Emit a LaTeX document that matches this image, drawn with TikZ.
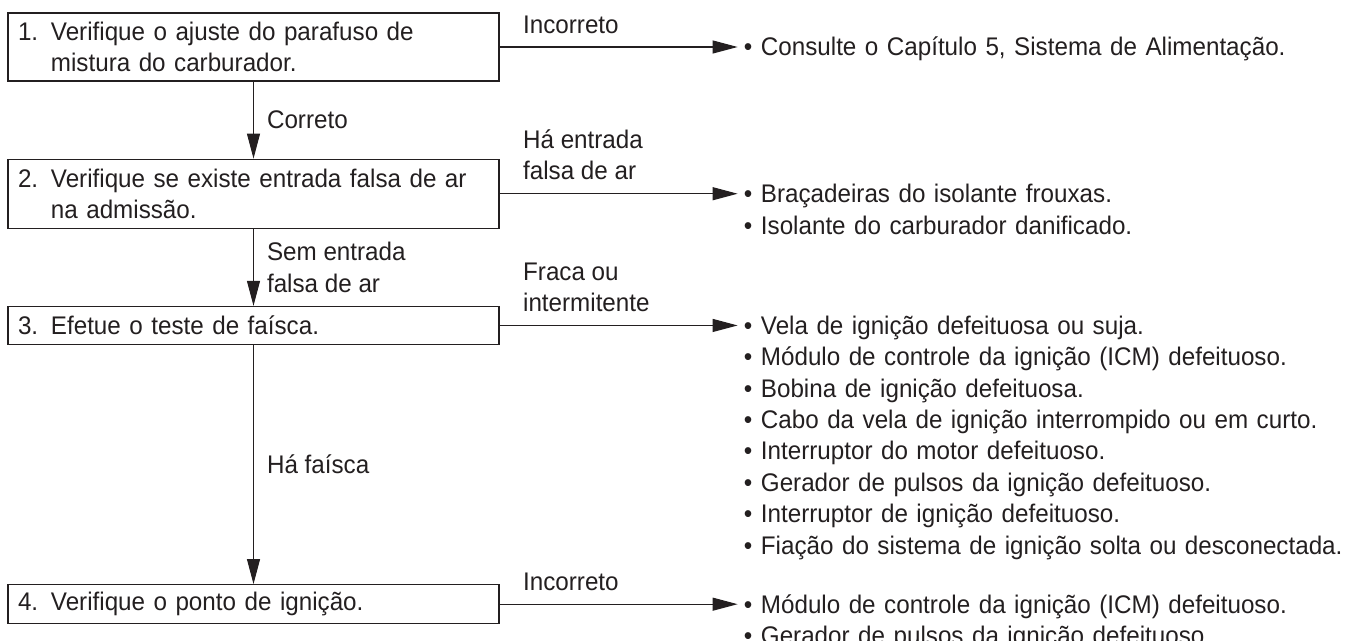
\documentclass[tikz,border=0pt]{standalone}
\usepackage{fontspec}
\setmainfont{Liberation Sans}[FakeStretch=0.95]
\usetikzlibrary{arrows.meta, positioning}
\definecolor{ink}{HTML}{231F20}
\tikzset{
  stepbox/.style={rectangle, draw=ink, line width=0.7pt, text=ink,
                  minimum width=9.82cm, text width=9.42cm, inner xsep=0.2cm,
                  inner ysep=0pt, align=left, font=\fontsize{14.5}{17.8}\selectfont},
  result/.style={anchor=base west, text=ink, text width=12.6cm, align=left,
                 inner xsep=0.12cm, inner ysep=0pt,
                 font=\fontsize{14.5}{17.85}\selectfont},
  lbl/.style={pos=0, anchor=south west, xshift=0.46cm, yshift=0.26cm,
              inner sep=0pt, align=left, text=ink, font=\fontsize{14.5}{17.8}\selectfont},
  vlbl/.style={midway, anchor=west, inner xsep=0.26cm, align=left, text=ink,
               font=\fontsize{14.5}{17.8}\selectfont},
  arrow/.style={-{Triangle[length=0.5cm, width=0.26cm]}, draw=ink, line width=0.6pt},
}

\begin{document}
\begin{tikzpicture}
  \useasboundingbox (0,0) rectangle (27.36,-12.82);

  % =====================================================
  % STEPS
  % =====================================================

  \node[stepbox, minimum height=1.36cm] (b1) at (5.07,-0.94)
    {1. Verifique o ajuste do parafuso de\\\hphantom{1. }mistura do carburador.};

  \node[stepbox, minimum height=1.38cm, below=1.54cm of b1]
    (b2) {2. Verifique se existe entrada falsa de ar\\\hphantom{2. }na admissão.};

  \node[stepbox, minimum height=0.76cm, below=1.54cm of b2]
    (b3) {3. Efetue o teste de faísca.};

  \node[stepbox, minimum height=0.78cm, below=4.78cm of b3]
    (b4) {4. Verifique o ponto de ignição.};


  % =====================================================
  % RESULTS
  % =====================================================

  \node[result] (r1) at ([xshift=4.76cm, yshift=-0.18cm]b1.east)
    {• Consulte o Capítulo 5, Sistema de Alimentação.};

  \node[result] (r2) at ([xshift=4.76cm, yshift=-0.18cm]b2.east)
    {• Braçadeiras do isolante frouxas.\\
     • Isolante do carburador danificado.};

  \node[result] (r3) at ([xshift=4.76cm, yshift=-0.18cm]b3.east)
    {• Vela de ignição defeituosa ou suja.\\
     • Módulo de controle da ignição (ICM) defeituoso.\\
     • Bobina de ignição defeituosa.\\
     • Cabo da vela de ignição interrompido ou em curto.\\
     • Interruptor do motor defeituoso.\\
     • Gerador de pulsos da ignição defeituoso.\\
     • Interruptor de ignição defeituoso.\\
     • Fiação do sistema de ignição solta ou desconectada.};

  \node[result] (r4) at ([xshift=4.76cm, yshift=-0.18cm]b4.east)
    {• Módulo de controle da ignição (ICM) defeituoso.\\
     • Gerador de pulsos da ignição defeituoso.};


  % =====================================================
  % MAIN FLOW
  % =====================================================

  \draw[arrow]
    (b1) -- node[vlbl]{Correto} (b2);

  \draw[arrow]
    (b2) -- node[vlbl]{Sem entrada\\falsa de ar} (b3);

  \draw[arrow]
    (b3) -- node[vlbl]{Há faísca} (b4);


  % =====================================================
  % FAULT PATHS
  % =====================================================

  \draw[arrow]
    (b1.east) -- node[lbl]{Incorreto} (r1.west |- b1.east);

  \draw[arrow]
    (b2.east) -- node[lbl]{Há entrada\\falsa de ar} (r2.west |- b2.east);

  \draw[arrow]
    (b3.east) -- node[lbl]{Fraca ou\\intermitente} (r3.west |- b3.east);

  \draw[arrow]
    (b4.east) -- node[lbl]{Incorreto} (r4.west |- b4.east);

\end{tikzpicture}
\end{document}
